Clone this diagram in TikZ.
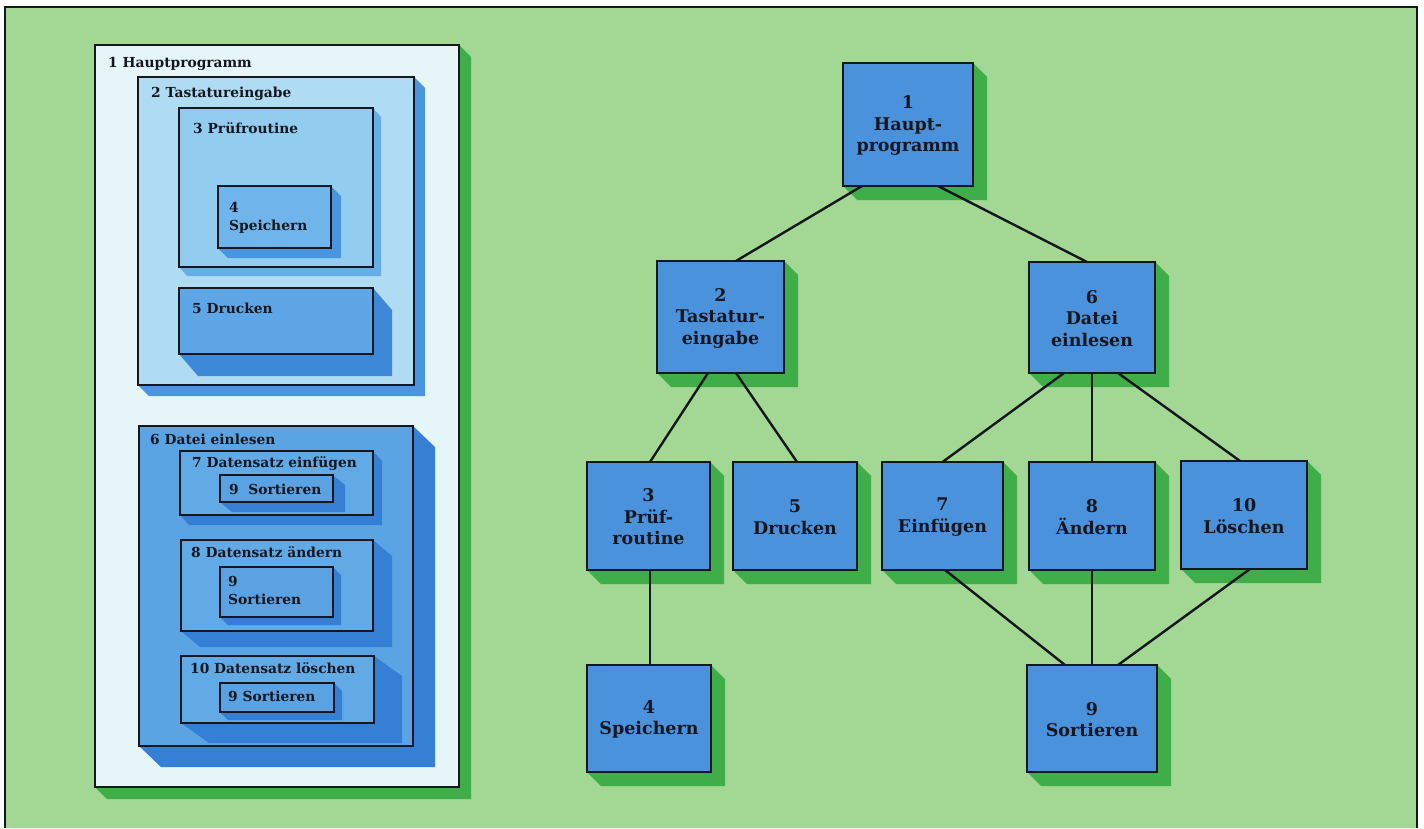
\documentclass[tikz,border=0pt]{standalone}
\usepackage{fontspec}
\setmainfont{DejaVu Serif}
\usetikzlibrary{calc}

\definecolor{paper}{HTML}{A2D893}
\definecolor{leafshade}{HTML}{40AE48}
\definecolor{ink}{HTML}{16161F}
\definecolor{nodeblue}{HTML}{4B92DC}
\definecolor{panelwhite}{HTML}{E6F5F8}
\definecolor{lvtwo}{HTML}{AFDCF2}
\definecolor{lvthree}{HTML}{92CDF0}
\definecolor{lvfour}{HTML}{6FB5EB}
\definecolor{lvfive}{HTML}{5FA6E6}
\definecolor{lvsix}{HTML}{5BA4E3}
\definecolor{lvseven}{HTML}{62AAE6}
\definecolor{lvnine}{HTML}{5AA2E2}
\definecolor{shadeA}{HTML}{4A96DE}
\definecolor{shadeB}{HTML}{66AEE8}
\definecolor{shadeC}{HTML}{3E88D8}
\definecolor{shadeD}{HTML}{357FD4}

\tikzset{
  boxline/.style={draw=ink, line width=1.8pt, inner sep=0pt, outer sep=0pt, rectangle},
  link/.style={draw=ink, line width=2.4pt},
  treetext/.style={text=ink, align=center, font=\fontsize{17.5}{21.5}\selectfont\bfseries},
  paneltext/.style={text=ink, anchor=base west, inner sep=0pt, align=left,
    font=\fontsize{13.8}{17.5}\selectfont\bfseries},
}

% box with an extruded shadow:
% name, x1, y1, x2, y2, fill, shadow colour, shadow dx, shadow dy
\newcommand\shbox[9]{%
  \fill[#7] (#2,#5) -- (#2+#8,#5+#9) -- (#4+#8,#5+#9) -- (#4+#8,#3+#9) -- (#4,#3) -- cycle;
  \node[boxline, fill=#6, minimum width={(#4-#2)*1pt}, minimum height={(#5-#3)*1pt}]
    (#1) at ({(#2+#4)/2},{(#3+#5)/2}) {};
}
% node of the tree: name, x1, y1, x2, y2, text
\newcommand\tbox[6]{%
  \shbox{#1}{#2}{#3}{#4}{#5}{nodeblue}{leafshade}{14}{14}%
  \node[treetext] (#1t) at ($(#1.center)+(0,1)$) {#6};
}

\begin{document}
\begin{tikzpicture}[x=1pt, y=-1pt]
\useasboundingbox (0,0) rectangle (1424,828);
\fill[white] (0,0) rectangle (1424,828);
\fill[paper] (5,7) rectangle (1417,828);
\draw[ink, line width=1.6pt] (5,828) -- (5,7) -- (1417,7) -- (1417,828);

% ---------- nested program structure ----------
\shbox{p1}{95}{45}{459}{787}{panelwhite}{leafshade}{12}{12}
\node[paneltext] (l1) at (108,67) {1 Hauptprogramm};

\shbox{p2}{138}{77}{414}{385}{lvtwo}{shadeA}{11}{11}
\node[paneltext] (l2) at (151,97) {2 Tastatureingabe};

\shbox{p3}{179}{108}{373}{267}{lvthree}{shadeB}{8}{9}
\node[paneltext] (l3) at (193,133) {3 Prüfroutine};

\shbox{p4}{218}{186}{331}{248}{lvfour}{shadeA}{10}{10}
\node[paneltext] (l4) at (229,230) {4\\Speichern};

\shbox{p5}{179}{288}{373}{354}{lvfive}{shadeC}{19}{22}
\node[paneltext] (l5) at (192,313) {5 Drucken};

\shbox{p6}{139}{426}{413}{746}{lvsix}{shadeD}{22}{21}
\node[paneltext] (l6) at (150,444) {6 Datei einlesen};

\shbox{p7}{180}{451}{373}{515}{lvseven}{shadeD}{9}{10}
\node[paneltext] (l7) at (192,467) {7 Datensatz einfügen};
\shbox{p7s}{220}{475}{333}{502}{lvnine}{shadeD}{12}{10}
\node[paneltext] (l7s) at (229,494) {9\ \ Sortieren};

\shbox{p8}{181}{540}{373}{631}{lvseven}{shadeD}{19}{16}
\node[paneltext] (l8) at (191,557) {8 Datensatz ändern};
\shbox{p8s}{220}{567}{333}{617}{lvnine}{shadeD}{8}{8}
\node[paneltext] (l8s) at (228,604) {9\\Sortieren};

\shbox{p10}{181}{656}{374}{723}{lvseven}{shadeD}{28}{20}
\node[paneltext] (l10) at (190,673) {10 Datensatz löschen};
\shbox{p10s}{220}{683}{334}{712}{lvnine}{shadeD}{8}{8}
\node[paneltext] (l10s) at (228,701) {9 Sortieren};

% ---------- hierarchy tree ----------
\tbox{n1}{843}{63}{973}{186}{1\\Haupt-\\programm}
\tbox{n2}{657}{261}{784}{373}{2\\Tastatur-\\eingabe}
\tbox{n6}{1029}{262}{1155}{373}{6\\Datei\\einlesen}
\tbox{n3}{587}{462}{710}{570}{3\\Prüf-\\routine}
\tbox{n5}{733}{462}{857}{570}{5\\Drucken}
\tbox{n7}{882}{462}{1003}{570}{7\\Einfügen}
\tbox{n8}{1029}{462}{1155}{570}{8\\Ändern}
\tbox{n10}{1181}{461}{1307}{569}{10\\Löschen}
\tbox{n4}{587}{665}{711}{772}{4\\Speichern}
\tbox{n9}{1027}{665}{1157}{772}{9\\Sortieren}

\draw[link] ($(n1.south)+(-46,0)$) -- ($(n2.north)+(15.5,0)$);
\draw[link] ($(n1.south)+(30,0)$) -- ($(n6.north)+(-5,0)$);
\draw[link] ($(n2.south)+(-12.5,0)$) -- ($(n3.north)+(1.5,0)$);
\draw[link] ($(n2.south)+(15.5,0)$) -- ($(n5.north)+(2,0)$);
\draw[link] ($(n6.south)+(-28,0)$) -- ($(n7.north)+(0,0)$);
\draw[link] (n6.south) -- (n8.north);
\draw[link] ($(n6.south)+(26,0)$) -- ($(n10.north)+(-4,0)$);
\draw[link] ($(n3.south)+(1.5,0)$) -- ($(n4.north)+(1,0)$);
\draw[link] ($(n7.south)+(2.5,0)$) -- ($(n9.north)+(-27,0)$);
\draw[link] (n8.south) -- (n9.north);
\draw[link] ($(n10.south)+(6,0)$) -- ($(n9.north)+(26,0)$);
\end{tikzpicture}
\end{document}
